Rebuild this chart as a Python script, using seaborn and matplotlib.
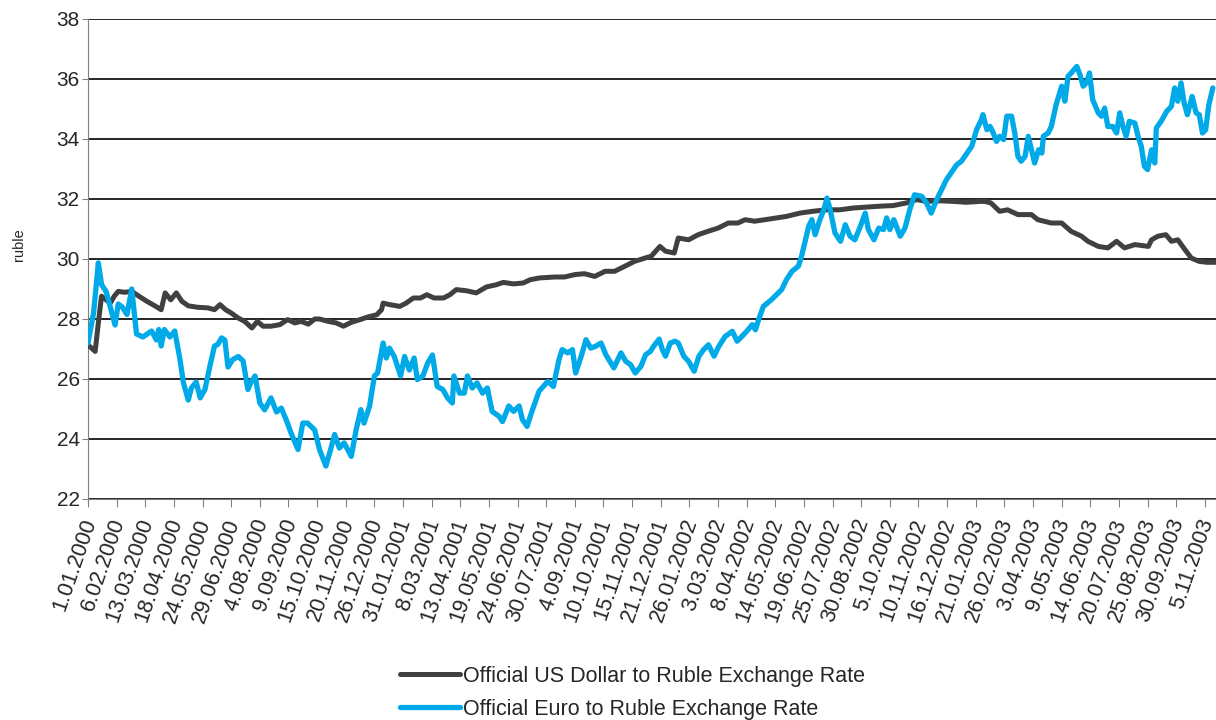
import numpy as np
import pandas as pd
import seaborn as sns
import matplotlib.pyplot as plt

# days counted from 1.01.2000
usd_days = [0, 9, 13, 17, 28, 33, 38, 46, 55, 64, 74, 84, 92, 97, 104, 111, 118, 126, 138,
            151, 159, 166, 173, 180, 189, 197, 206, 213, 220, 230, 241, 251, 260, 268, 277,
            285, 291, 302, 312, 321, 331, 342, 352, 363, 369, 371, 379, 392, 400, 409, 418,
            426, 435, 447, 455, 463, 476, 488, 501, 513, 522, 535, 547, 556, 568, 587, 599,
            612, 624, 637, 650, 662, 675, 687, 700, 708, 719, 726, 737, 742, 755, 767, 779,
            792, 805, 817, 826, 838, 851, 878, 895, 911, 928, 945, 962, 978, 995, 1012, 1029,
            1042, 1054, 1071, 1088, 1104, 1121, 1127, 1135, 1146, 1156, 1169, 1186, 1194,
            1211, 1224, 1236, 1249, 1257, 1270, 1282, 1293, 1303, 1316, 1333, 1337, 1345,
            1355, 1362, 1370, 1379, 1387, 1397, 1407, 1417]
usd_vals = [27.14, 26.92, 27.87, 28.76, 28.53, 28.76, 28.92, 28.89, 28.92, 28.76, 28.59,
            28.44, 28.31, 28.87, 28.64, 28.87, 28.59, 28.44, 28.39, 28.37, 28.31, 28.48, 28.31,
            28.2, 28.03, 27.92, 27.7, 27.92, 27.76, 27.76, 27.81, 27.98, 27.87, 27.92, 27.83,
            28.0, 28.0, 27.92, 27.87, 27.76, 27.89, 27.98, 28.07, 28.14, 28.31, 28.53, 28.48,
            28.42, 28.53, 28.7, 28.7, 28.81, 28.7, 28.7, 28.81, 28.98, 28.94, 28.87, 29.07,
            29.14, 29.22, 29.17, 29.2, 29.31, 29.37, 29.4, 29.4, 29.48, 29.51, 29.42, 29.59,
            29.59, 29.76, 29.92, 30.03, 30.09, 30.42, 30.26, 30.2, 30.7, 30.64, 30.81, 30.92,
            31.03, 31.2, 31.2, 31.31, 31.26, 31.31, 31.42, 31.53, 31.59, 31.64, 31.64, 31.7,
            31.73, 31.76, 31.78, 31.87, 31.98, 31.92, 31.94, 31.92, 31.89, 31.92, 31.92, 31.87,
            31.59, 31.64, 31.48, 31.48, 31.31, 31.2, 31.2, 30.92, 30.76, 30.59, 30.42, 30.37,
            30.59, 30.37, 30.48, 30.42, 30.64, 30.76, 30.81, 30.59, 30.64, 30.31, 30.03, 29.92,
            29.89, 29.89]

eur_days = [0, 7, 13, 17, 23, 28, 34, 38, 43, 49, 55, 61, 69, 80, 86, 89, 92, 96, 103, 109,
            115, 120, 126, 130, 136, 141, 147, 153, 159, 163, 168, 172, 176, 182, 189, 195,
            201, 205, 210, 216, 222, 230, 237, 243, 249, 256, 264, 270, 276, 285, 291, 299,
            305, 310, 316, 322, 331, 337, 343, 347, 354, 360, 364, 371, 375, 379, 385, 389,
            393, 398, 404, 410, 414, 421, 427, 433, 439, 446, 452, 458, 460, 467, 473, 477,
            483, 489, 496, 502, 508, 517, 521, 529, 535, 542, 546, 552, 558, 567, 578, 585,
            592, 596, 603, 609, 613, 620, 626, 632, 638, 645, 651, 661, 670, 676, 682, 688,
            695, 701, 707, 711, 718, 722, 726, 732, 738, 742, 749, 755, 762, 768, 774, 780,
            787, 793, 801, 810, 816, 822, 828, 835, 839, 843, 849, 859, 872, 878, 885, 893,
            897, 902, 906, 910, 914, 920, 925, 929, 933, 939, 946, 952, 958, 964, 971, 977,
            981, 988, 994, 1000, 1004, 1008, 1013, 1021, 1027, 1033, 1039, 1048, 1054, 1060,
            1067, 1073, 1079, 1085, 1092, 1098, 1105, 1111, 1117, 1123, 1125, 1130, 1134, 1138,
            1142, 1146, 1151, 1155, 1161, 1165, 1169, 1173, 1178, 1182, 1186, 1190, 1195, 1199,
            1201, 1207, 1211, 1217, 1224, 1228, 1232, 1236, 1243, 1247, 1251, 1255, 1259, 1263,
            1270, 1274, 1278, 1282, 1288, 1293, 1297, 1301, 1305, 1309, 1316, 1320, 1324, 1328,
            1332, 1337, 1341, 1343, 1349, 1356, 1362, 1366, 1370, 1374, 1378, 1382, 1388, 1393,
            1397, 1401, 1405, 1409, 1414]
eur_vals = [27.2, 28.2, 29.87, 29.15, 28.9, 28.4, 27.8, 28.5, 28.4, 28.15, 29.0, 27.5, 27.4,
            27.6, 27.3, 27.65, 27.1, 27.65, 27.4, 27.6, 26.75, 25.87, 25.3, 25.7, 25.9, 25.37,
            25.65, 26.4, 27.1, 27.15, 27.37, 27.3, 26.4, 26.65, 26.75, 26.6, 25.65, 25.9, 26.1,
            25.2, 24.97, 25.37, 24.9, 25.03, 24.65, 24.15, 23.65, 24.53, 24.53, 24.3, 23.65,
            23.1, 23.65, 24.15, 23.7, 23.87, 23.42, 24.3, 24.98, 24.53, 25.1, 26.1, 26.2, 27.2,
            26.7, 27.03, 26.75, 26.42, 26.1, 26.75, 26.3, 26.7, 25.98, 26.1, 26.53, 26.8, 25.75,
            25.65, 25.37, 25.2, 26.1, 25.53, 25.53, 26.1, 25.7, 25.87, 25.53, 25.7, 24.92, 24.75,
            24.58, 25.1, 24.92, 25.1, 24.65, 24.42, 24.92, 25.59, 25.92, 25.75, 26.64, 26.98,
            26.87, 26.98, 26.2, 26.76, 27.31, 27.03, 27.09, 27.2, 26.81, 26.37, 26.87, 26.59,
            26.48, 26.2, 26.42, 26.81, 26.92, 27.09, 27.33, 26.98, 26.76, 27.2, 27.26, 27.2,
            26.76, 26.59, 26.26, 26.76, 26.98, 27.14, 26.76, 27.09, 27.42, 27.59, 27.26, 27.42,
            27.59, 27.81, 27.64, 27.98, 28.42, 28.64, 28.98, 29.31, 29.59, 29.76, 30.09, 30.64,
            31.09, 31.31, 30.81, 31.31, 31.64, 32.03, 31.64, 30.87, 30.59, 31.14, 30.76, 30.64,
            31.09, 31.53, 30.98, 30.64, 31.03, 30.98, 31.37, 30.98, 31.31, 30.76, 31.03, 31.64,
            32.14, 32.09, 31.87, 31.53, 31.98, 32.31, 32.64, 32.87, 33.14, 33.26, 33.53, 33.76,
            34.31, 34.64, 34.81, 34.31, 34.42, 34.2, 33.92, 34.09, 33.98, 34.76, 34.76, 34.2,
            33.42, 33.26, 33.42, 34.09, 33.64, 33.2, 33.64, 33.53, 34.09, 34.2, 34.42, 35.14,
            35.76, 35.26, 36.09, 36.2, 36.42, 36.14, 35.76, 35.87, 36.2, 35.31, 34.87, 34.76,
            35.03, 34.42, 34.42, 34.2, 34.87, 34.42, 34.09, 34.59, 34.53, 34.09, 33.76, 33.09,
            32.98, 33.64, 33.2, 34.37, 34.59, 34.92, 35.09, 35.7, 35.26, 35.87, 35.2, 34.81,
            35.42, 34.87, 34.81, 34.2, 34.31, 35.14, 35.7]

tick_labels = ["1.01.2000", "6.02.2000", "13.03.2000", "18.04.2000", "24.05.2000",
               "29.06.2000", "4.08.2000", "9.09.2000", "15.10.2000", "20.11.2000",
               "26.12.2000", "31.01.2001", "8.03.2001", "13.04.2001", "19.05.2001",
               "24.06.2001", "30.07.2001", "4.09.2001", "10.10.2001", "15.11.2001",
               "21.12.2001", "26.01.2002", "3.03.2002", "8.04.2002", "14.05.2002",
               "19.06.2002", "25.07.2002", "30.08.2002", "5.10.2002", "10.11.2002",
               "16.12.2002", "21.01.2003", "26.02.2003", "3.04.2003", "9.05.2003",
               "14.06.2003", "20.07.2003", "25.08.2003", "30.09.2003", "5.11.2003"]

usd = pd.DataFrame({"day": usd_days, "rate": usd_vals})
eur = pd.DataFrame({"day": eur_days, "rate": eur_vals})

sns.set_style("white")
plt.rcParams["font.family"] = ["Liberation Sans", "DejaVu Sans"]

fig = plt.figure(figsize=(12.16, 7.2), dpi=100)
ax = fig.add_axes([88 / 1216, 1 - 499 / 720, 1 - 88 / 1216, 480 / 720])

sns.lineplot(data=usd, x="day", y="rate", ax=ax, color="#404040", lw=3.6,
             label="Official US Dollar to Ruble Exchange Rate", zorder=3)
sns.lineplot(data=eur, x="day", y="rate", ax=ax, color="#00A9E8", lw=3.8,
             label="Official Euro to Ruble Exchange Rate", zorder=4)

ax.set_ylim(22, 38)
ax.set_yticks(range(22, 39, 2))
ax.set_xlim(0, 1418)
ax.set_xticks([36 * i for i in range(len(tick_labels))])
ax.set_xticklabels(tick_labels, rotation=71, ha="right", va="center_baseline",
                   rotation_mode="anchor")
ax.grid(axis="y", color="black", lw=1.2)
ax.set_axisbelow(True)
for s in ["top", "right"]:
    ax.spines[s].set_visible(False)
ax.spines["left"].set_color("#808080")
ax.spines["bottom"].set_color("#808080")
ax.tick_params(axis="x", direction="out", length=6, color="#808080", labelsize=15.5, pad=8)
ax.tick_params(axis="y", direction="out", length=4, color="#808080", labelsize=15, pad=2)
ax.tick_params(bottom=True, left=True)
ax.set_xlabel("")
ax.set_ylabel("ruble", fontsize=10.5)
ax.yaxis.set_label_coords(-0.055, 0.53)

h, l = ax.get_legend_handles_labels()
ax.get_legend().remove()
fig.legend(h, l, loc="center", bbox_to_anchor=(0.52, 0.038), frameon=False,
           fontsize=15.5, handlelength=2.8, handletextpad=0.1, labelspacing=0.55)

fig.savefig("out.png", dpi=100)
